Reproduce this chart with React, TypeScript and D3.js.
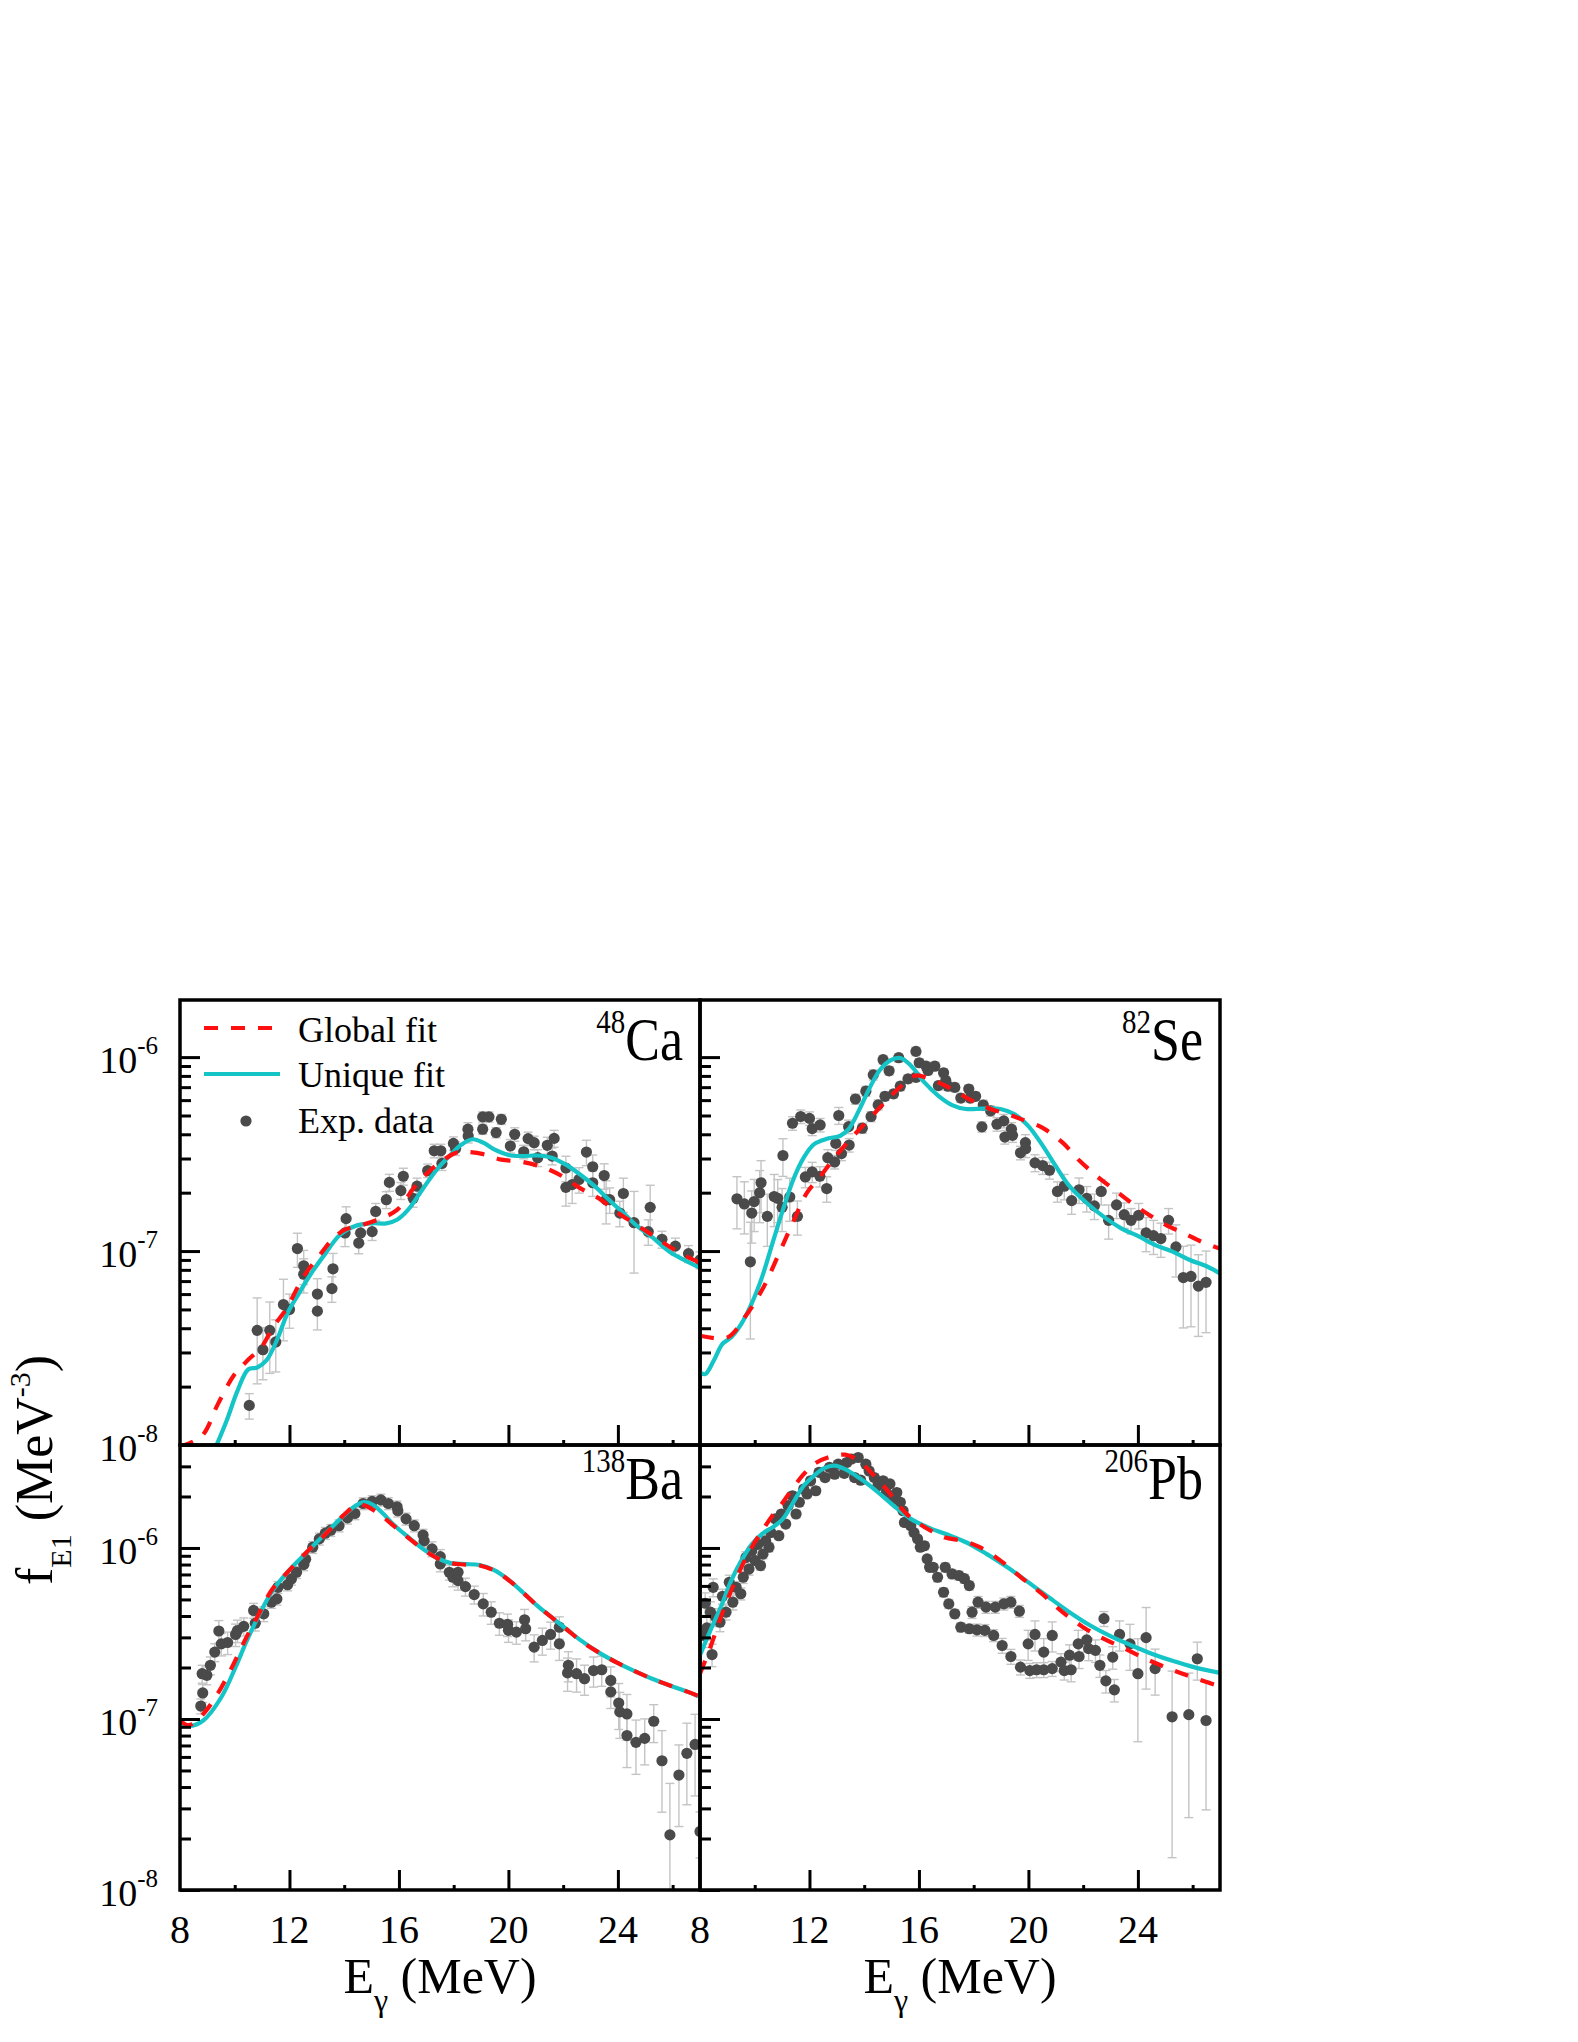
import React, { useEffect, useRef } from "react";
import * as d3 from "d3";

const W = 1578;
const H = 2042;
const FONT = "'Liberation Serif', 'Times New Roman', serif";

// panel frames (px)
const cols = [[180, 700], [700, 1220]];
const rows = [[1000, 1445], [1445, 1890]];
const eDomain = [8, 27];
const fTop = [1.97e-6, 4e-6]; // upper limit of y per row

const xMajor = [8, 12, 16, 20, 24];
const xMinor = [10, 14, 18, 22, 26];
const yLabels = [[1e-6, 1e-7, 1e-8], [1e-6, 1e-7, 1e-8]];

const RED = "#ff1010";
const CYAN = "#14c4c6";
const DOT = "#4a4a4a";

// ---- 48Ca ---- [E, f, relErr]
const ca48Exp = [
  [10.53, 1.6e-8, 0.15], [10.82, 3.9e-8, 0.47], [11.03, 3.1e-8, 0.3], [11.28, 3.9e-8, 0.4],
  [11.5, 3.4e-8, 0.3], [11.78, 5.3e-8, 0.35], [12.0, 5.0e-8, 0.2], [12.29, 1.03e-7, 0.2],
  [12.52, 8.4e-8, 0.2], [12.52, 7.6e-8, 0.2], [13.02, 6.0e-8, 0.2], [13.02, 4.9e-8, 0.2],
  [13.55, 6.4e-8, 0.15], [13.59, 8.1e-8, 0.2], [14.07, 1.47e-7, 0.15], [14.03, 1.24e-7, 0.15],
  [14.53, 1.1e-7, 0.12], [14.6, 1.24e-7, 0.12], [15.02, 1.26e-7, 0.1], [15.15, 1.6e-7, 0.1],
  [15.54, 1.84e-7, 0.1], [15.65, 2.26e-7, 0.1], [16.07, 2.05e-7, 0.1], [16.16, 2.43e-7, 0.1],
  [16.52, 1.87e-7, 0.1], [16.66, 2.16e-7, 0.1], [17.05, 2.6e-7, 0.08], [17.29, 3.29e-7, 0.08],
  [17.53, 3.29e-7, 0.08], [17.57, 2.83e-7, 0.08], [17.99, 3.59e-7, 0.08], [18.07, 3.38e-7, 0.08],
  [18.52, 4.25e-7, 0.08], [18.53, 3.92e-7, 0.08], [19.06, 4.92e-7, 0.06], [19.06, 4.25e-7, 0.06],
  [19.29, 4.92e-7, 0.06], [19.55, 4.08e-7, 0.06], [19.74, 4.78e-7, 0.06], [20.07, 3.48e-7, 0.08],
  [20.23, 4.0e-7, 0.08], [20.56, 3.25e-7, 0.08], [20.72, 3.8e-7, 0.08], [20.94, 3.62e-7, 0.08],
  [21.07, 3.03e-7, 0.1], [21.42, 3.51e-7, 0.1], [21.6, 3.09e-7, 0.1], [21.67, 3.81e-7, 0.1],
  [22.1, 2.68e-7, 0.15], [22.1, 2.13e-7, 0.2], [22.33, 2.2e-7, 0.2], [22.58, 2.34e-7, 0.15],
  [22.85, 3.24e-7, 0.15], [23.08, 2.72e-7, 0.15], [23.08, 2.25e-7, 0.15], [23.5, 2.45e-7, 0.15],
  [23.57, 1.84e-7, 0.25], [23.7, 1.84e-7, 0.15], [24.07, 1.57e-7, 0.15], [24.2, 1.98e-7, 0.2],
  [24.59, 1.4e-7, 0.45], [25.18, 1.68e-7, 0.3], [25.11, 1.26e-7, 0.15], [25.61, 1.15e-7, 0.1],
  [26.1, 1.06e-7, 0.1], [26.58, 9.7e-8, 0.1], [27.0, 9.0e-8, 0.1],
];
const ca48Global = [
  [8, 9.8e-9], [8.79, 1.11e-8], [9.38, 1.62e-8], [9.97, 2.29e-8], [10.49, 2.75e-8], [10.95, 3.16e-8],
  [11.41, 4.07e-8], [11.87, 5.0e-8], [12.52, 7.4e-8], [13.05, 9.3e-8], [13.57, 1.15e-7], [14.03, 1.29e-7],
  [14.62, 1.36e-7], [15.28, 1.46e-7], [15.93, 1.63e-7], [16.59, 2.16e-7], [17.11, 2.58e-7], [17.64, 2.96e-7],
  [18.16, 3.24e-7], [18.56, 3.24e-7], [19.08, 3.16e-7], [19.74, 2.96e-7], [20.52, 2.88e-7], [21.31, 2.69e-7],
  [21.97, 2.43e-7], [22.62, 2.11e-7], [23.28, 1.88e-7], [23.93, 1.6e-7], [24.59, 1.39e-7], [25.25, 1.21e-7],
  [25.9, 1.05e-7], [26.56, 9.3e-8], [27.08, 8.6e-8],
];
const ca48Unique = [
  [9.31, 9.8e-9], [9.7, 1.33e-8], [10.1, 1.9e-8], [10.49, 2.45e-8], [10.82, 2.51e-8], [11.15, 2.72e-8],
  [11.54, 3.47e-8], [11.93, 4.79e-8], [12.33, 6.0e-8], [12.79, 7.66e-8], [13.31, 9.7e-8], [13.84, 1.21e-7],
  [14.43, 1.35e-7], [15.02, 1.39e-7], [15.54, 1.39e-7], [15.93, 1.45e-7], [16.33, 1.63e-7], [16.85, 2.07e-7],
  [17.38, 2.63e-7], [17.9, 3.15e-7], [18.3, 3.55e-7], [18.69, 3.77e-7], [19.08, 3.62e-7], [19.48, 3.34e-7],
  [20.0, 3.13e-7], [20.52, 3.09e-7], [21.05, 3.11e-7], [21.57, 3.03e-7], [22.1, 2.79e-7], [22.62, 2.48e-7],
  [23.15, 2.16e-7], [23.67, 1.84e-7], [24.2, 1.57e-7], [24.72, 1.34e-7], [25.25, 1.18e-7], [25.9, 9.9e-8],
  [26.56, 8.8e-8], [27.08, 8.1e-8],
];

// ---- 82Se ----
const se82Exp = [
  [9.35, 1.86e-7, 0.3], [9.62, 1.75e-7, 0.3], [9.84, 8.8e-8, 0.6], [9.89, 1.57e-7, 0.3],
  [9.98, 1.8e-7, 0.3], [10.18, 2.0e-7, 0.3], [10.23, 2.25e-7, 0.3], [10.46, 1.51e-7, 0.3],
  [10.71, 1.91e-7, 0.3], [10.84, 1.87e-7, 0.25], [11.0, 1.68e-7, 0.25], [11.03, 3.11e-7, 0.22],
  [11.28, 1.9e-7, 0.25], [11.38, 4.56e-7, 0.08], [11.56, 1.51e-7, 0.2], [11.68, 4.94e-7, 0.08],
  [11.85, 2.41e-7, 0.12], [12.0, 4.83e-7, 0.08], [12.1, 2.56e-7, 0.12], [12.1, 4.28e-7, 0.08],
  [12.39, 4.47e-7, 0.08], [12.38, 2.43e-7, 0.12], [12.63, 2.1e-7, 0.15], [12.67, 3.03e-7, 0.1],
  [12.92, 2.88e-7, 0.08], [12.96, 3.59e-7, 0.08], [13.07, 5.0e-7, 0.1], [13.17, 3.18e-7, 0.08],
  [13.43, 4.38e-7, 0.08], [13.45, 3.52e-7, 0.08], [13.68, 6.08e-7, 0.06], [13.93, 4.3e-7, 0.06],
  [14.06, 6.67e-7, 0.06], [14.25, 4.94e-7, 0.06], [14.33, 8.1e-7, 0.06], [14.51, 5.67e-7, 0.06],
  [14.69, 9.7e-7, 0.05], [14.76, 6.28e-7, 0.05], [14.91, 8.5e-7, 0.05], [15.07, 6.46e-7, 0.05],
  [15.26, 9.93e-7, 0.05], [15.32, 7.08e-7, 0.05], [15.6, 7.72e-7, 0.05], [15.89, 1.07e-6, 0.05],
  [15.89, 7.87e-7, 0.05], [16.01, 9.35e-7, 0.05], [16.26, 8.98e-7, 0.05], [16.33, 8.53e-7, 0.05],
  [16.58, 8.98e-7, 0.05], [16.71, 7.13e-7, 0.05], [16.9, 8.3e-7, 0.05], [16.98, 7.57e-7, 0.05],
  [17.06, 7.08e-7, 0.05], [17.31, 6.98e-7, 0.05], [17.53, 6.15e-7, 0.05], [17.82, 6.85e-7, 0.05],
  [17.87, 6.15e-7, 0.05], [18.07, 6.28e-7, 0.05], [18.3, 4.37e-7, 0.06], [18.35, 5.66e-7, 0.06],
  [18.62, 5.28e-7, 0.06], [18.85, 4.51e-7, 0.08], [19.1, 4.69e-7, 0.08], [19.14, 3.87e-7, 0.08],
  [19.38, 4.25e-7, 0.08], [19.42, 3.95e-7, 0.08], [19.71, 3.21e-7, 0.08], [19.89, 3.62e-7, 0.1],
  [19.9, 3.37e-7, 0.1], [20.24, 2.85e-7, 0.1], [20.52, 2.76e-7, 0.1], [20.77, 2.61e-7, 0.1],
  [21.06, 2.03e-7, 0.12], [21.31, 2.16e-7, 0.15], [21.58, 1.82e-7, 0.15], [21.85, 2.07e-7, 0.15],
  [22.13, 1.87e-7, 0.15], [22.41, 1.71e-7, 0.15], [22.66, 2.03e-7, 0.15], [22.93, 1.44e-7, 0.2],
  [23.22, 1.73e-7, 0.15], [23.5, 1.54e-7, 0.15], [23.75, 1.44e-7, 0.15], [24.03, 1.53e-7, 0.15],
  [24.3, 1.24e-7, 0.2], [24.57, 1.2e-7, 0.2], [24.84, 1.16e-7, 0.2], [25.12, 1.44e-7, 0.15],
  [25.39, 1.05e-7, 0.3], [25.66, 7.3e-8, 0.45], [25.94, 7.4e-8, 0.45], [26.21, 6.6e-8, 0.45],
  [26.49, 6.9e-8, 0.45],
];
const se82Global = [
  [8, 3.66e-8], [9.01, 3.59e-8], [9.64, 4.57e-8], [10.27, 6.31e-8], [10.9, 9.8e-8], [11.41, 1.42e-7],
  [11.91, 2.0e-7], [12.35, 2.38e-7], [12.92, 3.03e-7], [13.55, 3.85e-7], [14.18, 4.79e-7], [14.81, 5.96e-7],
  [15.44, 7.28e-7], [15.89, 8.04e-7], [16.33, 7.78e-7], [16.96, 7.13e-7], [17.72, 6.19e-7], [18.47, 5.5e-7],
  [19.23, 5.08e-7], [19.73, 4.79e-7], [20.49, 4.34e-7], [21.25, 3.62e-7], [21.88, 2.91e-7], [22.51, 2.43e-7],
  [23.14, 2.07e-7], [23.77, 1.77e-7], [24.4, 1.54e-7], [25.03, 1.36e-7], [25.66, 1.24e-7], [26.3, 1.12e-7],
  [27.0, 1.03e-7],
];
const se82Unique = [
  [8, 2.37e-8], [8.19, 2.32e-8], [8.5, 2.72e-8], [8.82, 3.32e-8], [9.14, 3.59e-8], [9.51, 4.21e-8],
  [9.89, 5.37e-8], [10.27, 7.36e-8], [10.65, 1.1e-7], [11.03, 1.63e-7], [11.41, 2.34e-7], [11.79, 3.03e-7],
  [12.16, 3.55e-7], [12.67, 3.8e-7], [13.11, 3.92e-7], [13.43, 4.25e-7], [13.8, 5.28e-7], [14.18, 6.85e-7],
  [14.56, 8.53e-7], [14.94, 9.6e-7], [15.32, 9.9e-7], [15.7, 9.06e-7], [16.2, 7.41e-7], [16.71, 6.32e-7],
  [17.21, 5.66e-7], [17.72, 5.4e-7], [18.35, 5.43e-7], [18.98, 5.4e-7], [19.48, 5.08e-7], [19.99, 4.42e-7],
  [20.49, 3.55e-7], [21.0, 2.74e-7], [21.5, 2.16e-7], [22.13, 1.77e-7], [22.76, 1.5e-7], [23.39, 1.31e-7],
  [24.03, 1.19e-7], [24.66, 1.07e-7], [25.29, 9.9e-8], [25.92, 8.97e-8], [26.55, 8.3e-8], [27.0, 7.66e-8],
];

// ---- 138Ba ----
const ba138Exp = [
  [8.76, 1.19e-7, 0.1], [8.83, 1.42e-7, 0.12], [8.81, 1.84e-7, 0.12], [8.98, 1.8e-7, 0.12],
  [9.11, 2.06e-7, 0.12], [9.27, 2.46e-7, 0.12], [9.42, 3.27e-7, 0.15], [9.51, 2.75e-7, 0.15],
  [9.74, 2.8e-7, 0.15], [10.03, 3.12e-7, 0.15], [10.1, 3.29e-7, 0.15], [10.33, 3.48e-7, 0.12],
  [10.69, 4.31e-7, 0.1], [10.75, 3.63e-7, 0.1], [11.06, 4.12e-7, 0.1], [11.34, 4.82e-7, 0.08],
  [11.54, 5.04e-7, 0.08], [11.58, 5.89e-7, 0.08], [11.93, 6.1e-7, 0.08], [12.07, 6.59e-7, 0.08],
  [12.26, 7.21e-7, 0.08], [12.52, 8.0e-7, 0.08], [12.59, 8.6e-7, 0.08], [12.85, 1.01e-6, 0.08],
  [13.09, 1.13e-6, 0.08], [13.31, 1.22e-6, 0.08], [13.51, 1.27e-6, 0.08], [13.81, 1.35e-6, 0.08],
  [14.12, 1.5e-6, 0.08], [14.39, 1.59e-6, 0.08], [14.69, 1.82e-6, 0.08], [15.02, 1.87e-6, 0.08],
  [15.34, 1.91e-6, 0.08], [15.61, 1.82e-6, 0.08], [15.93, 1.74e-6, 0.08], [15.96, 1.65e-6, 0.08],
  [16.26, 1.48e-6, 0.08], [16.56, 1.35e-6, 0.08], [16.88, 1.19e-6, 0.08], [16.92, 1.1e-6, 0.08],
  [17.21, 9.87e-7, 0.1], [17.51, 8.89e-7, 0.1], [17.51, 8.06e-7, 0.1], [17.84, 7.21e-7, 0.1],
  [17.97, 6.74e-7, 0.12], [18.16, 7.21e-7, 0.1], [18.16, 6.44e-7, 0.12], [18.43, 5.94e-7, 0.12],
  [18.75, 5.34e-7, 0.12], [19.08, 4.71e-7, 0.15], [19.37, 4.21e-7, 0.15], [19.67, 3.63e-7, 0.15],
  [19.97, 3.57e-7, 0.15], [20.0, 3.3e-7, 0.15], [20.29, 3.22e-7, 0.15], [20.59, 3.8e-7, 0.15],
  [20.63, 3.37e-7, 0.15], [20.94, 2.63e-7, 0.18], [21.24, 2.88e-7, 0.18], [21.54, 3.12e-7, 0.18],
  [21.86, 3.44e-7, 0.15], [21.86, 2.75e-7, 0.2], [22.16, 1.86e-7, 0.22], [22.19, 2.06e-7, 0.2],
  [22.49, 1.84e-7, 0.22], [22.78, 1.72e-7, 0.2], [23.11, 1.92e-7, 0.2], [23.41, 1.94e-7, 0.2],
  [23.74, 1.68e-7, 0.2], [23.74, 1.44e-7, 0.2], [24.03, 1.24e-7, 0.3], [24.07, 1.1e-7, 0.3],
  [24.33, 1.07e-7, 0.3], [24.33, 8.0e-8, 0.35], [24.66, 7.3e-8, 0.35], [24.98, 7.7e-8, 0.3],
  [25.31, 9.7e-8, 0.25], [25.61, 5.7e-8, 0.5], [25.9, 2.1e-8, 1.0], [26.23, 4.7e-8, 0.5],
  [26.52, 6.3e-8, 0.5], [26.82, 7.1e-8, 0.5], [27.0, 2.2e-8, 0.3],
];
const ba138Global = [
  [8, 9.8e-8], [8.33, 9.2e-8], [8.85, 1.07e-7], [9.38, 1.41e-7], [9.9, 2.01e-7], [10.43, 3.01e-7],
  [10.82, 3.94e-7], [11.34, 5.64e-7], [11.87, 7.05e-7], [12.39, 8.63e-7], [12.92, 1.05e-6], [13.44, 1.26e-6],
  [13.97, 1.55e-6], [14.47, 1.79e-6], [14.75, 1.77e-6], [15.28, 1.58e-6], [15.8, 1.35e-6], [16.33, 1.15e-6],
  [16.85, 9.9e-7], [17.38, 8.75e-7], [17.9, 8.15e-7], [18.43, 8.0e-7], [18.95, 7.89e-7], [19.48, 7.38e-7],
  [20.0, 6.5e-7], [20.52, 5.51e-7], [21.05, 4.6e-7], [21.57, 3.94e-7], [22.1, 3.37e-7], [22.62, 2.88e-7],
  [23.28, 2.46e-7], [23.93, 2.15e-7], [24.59, 1.91e-7], [25.25, 1.72e-7], [25.9, 1.57e-7], [26.56, 1.44e-7],
  [27.04, 1.34e-7],
];
const ba138Unique = [
  [8, 9.6e-8], [8.33, 9.1e-8], [8.85, 9.8e-8], [9.51, 1.34e-7], [10.03, 2.01e-7], [10.43, 2.84e-7],
  [10.82, 3.85e-7], [11.34, 5.5e-7], [11.87, 7.05e-7], [12.39, 8.63e-7], [12.92, 1.05e-6], [13.44, 1.27e-6],
  [13.97, 1.54e-6], [14.4, 1.76e-6], [14.69, 1.85e-6], [15.02, 1.8e-6], [15.4, 1.6e-6], [15.8, 1.37e-6],
  [16.33, 1.16e-6], [16.85, 9.95e-7], [17.38, 8.75e-7], [17.9, 8.15e-7], [18.43, 8.05e-7], [18.95, 7.95e-7],
  [19.48, 7.42e-7], [20.0, 6.52e-7], [20.52, 5.51e-7], [21.05, 4.6e-7], [21.57, 3.94e-7], [22.1, 3.37e-7],
  [22.62, 2.9e-7], [23.28, 2.46e-7], [23.93, 2.15e-7], [24.59, 1.91e-7], [25.25, 1.72e-7], [25.9, 1.57e-7],
  [26.56, 1.44e-7], [27.04, 1.34e-7],
];

// ---- 206Pb ----
const pb206Exp = [
  [8.15, 3.08e-7, 0.15], [8.19, 4.75e-7, 0.15], [8.25, 3.41e-7, 0.15], [8.38, 4.21e-7, 0.15],
  [8.44, 2.38e-7, 0.15], [8.48, 5.89e-7, 0.12], [8.57, 3.94e-7, 0.12], [8.73, 3.68e-7, 0.12],
  [8.82, 5.22e-7, 0.1], [8.95, 4.21e-7, 0.1], [9.07, 6.3e-7, 0.1], [9.2, 4.82e-7, 0.1],
  [9.32, 5.89e-7, 0.08], [9.49, 5.4e-7, 0.08], [9.58, 6.74e-7, 0.08], [9.68, 8.8e-7, 0.08],
  [9.79, 7.53e-7, 0.08], [9.89, 9.6e-7, 0.06], [10.02, 8.43e-7, 0.06], [10.12, 1.05e-6, 0.06],
  [10.21, 7.89e-7, 0.06], [10.3, 9.2e-7, 0.06], [10.4, 1.1e-6, 0.06], [10.52, 1.01e-6, 0.06],
  [10.59, 1.23e-6, 0.05], [10.75, 1.48e-6, 0.05], [10.88, 1.18e-6, 0.05], [10.97, 1.58e-6, 0.05],
  [11.13, 1.38e-6, 0.05], [11.22, 1.77e-6, 0.05], [11.38, 2.02e-6, 0.05], [11.51, 1.58e-6, 0.05],
  [11.63, 1.85e-6, 0.05], [11.79, 2.21e-6, 0.05], [11.91, 2.07e-6, 0.05], [12.04, 2.47e-6, 0.05],
  [12.23, 2.16e-6, 0.05], [12.35, 2.77e-6, 0.05], [12.57, 2.58e-6, 0.05], [12.73, 2.96e-6, 0.05],
  [12.92, 2.7e-6, 0.05], [13.05, 3.09e-6, 0.05], [13.27, 2.73e-6, 0.05], [13.36, 3.16e-6, 0.05],
  [13.53, 3.31e-6, 0.05], [13.65, 2.58e-6, 0.05], [13.78, 3.38e-6, 0.05], [13.87, 2.49e-6, 0.05],
  [14.06, 3.09e-6, 0.05], [14.18, 2.82e-6, 0.05], [14.37, 2.58e-6, 0.05], [14.5, 2.31e-6, 0.05],
  [14.69, 2.47e-6, 0.05], [14.81, 2.11e-6, 0.05], [14.94, 2.37e-6, 0.05], [15.07, 1.93e-6, 0.05],
  [15.19, 2.11e-6, 0.05], [15.32, 1.85e-6, 0.05], [15.42, 1.65e-6, 0.05], [15.47, 1.41e-6, 0.05],
  [15.7, 1.35e-6, 0.05], [15.82, 1.23e-6, 0.05], [15.95, 1.13e-6, 0.05], [16.05, 1.01e-6, 0.05],
  [16.2, 1.03e-6, 0.05], [16.3, 8.63e-7, 0.05], [16.39, 7.71e-7, 0.05], [16.52, 7.71e-7, 0.05],
  [16.68, 6.74e-7, 0.06], [16.9, 5.51e-7, 0.06], [16.96, 7.71e-7, 0.06], [17.09, 4.71e-7, 0.06],
  [17.21, 7.05e-7, 0.06], [17.31, 4.12e-7, 0.06], [17.46, 6.9e-7, 0.06], [17.53, 3.44e-7, 0.06],
  [17.66, 6.61e-7, 0.06], [17.84, 6.03e-7, 0.06], [17.84, 3.37e-7, 0.06], [17.94, 4.21e-7, 0.08],
  [18.12, 3.32e-7, 0.08], [18.16, 4.82e-7, 0.08], [18.41, 3.3e-7, 0.08], [18.45, 4.51e-7, 0.08],
  [18.73, 3.08e-7, 0.08], [18.79, 4.51e-7, 0.08], [19.04, 2.69e-7, 0.1], [19.1, 4.71e-7, 0.08],
  [19.36, 2.32e-7, 0.1], [19.36, 4.82e-7, 0.08], [19.67, 4.27e-7, 0.08], [19.71, 2.01e-7, 0.1],
  [19.99, 2.75e-7, 0.2], [20.05, 1.92e-7, 0.1], [20.24, 3.12e-7, 0.2], [20.3, 1.94e-7, 0.1],
  [20.56, 2.46e-7, 0.2], [20.56, 1.94e-7, 0.1], [20.87, 3.08e-7, 0.2], [20.87, 1.97e-7, 0.1],
  [21.19, 2.15e-7, 0.12], [21.31, 1.92e-7, 0.12], [21.5, 2.36e-7, 0.15], [21.56, 1.94e-7, 0.15],
  [21.82, 2.75e-7, 0.2], [21.85, 2.32e-7, 0.15], [22.13, 2.9e-7, 0.15], [22.2, 2.58e-7, 0.15],
  [22.45, 2.52e-7, 0.15], [22.61, 2.06e-7, 0.15], [22.76, 3.86e-7, 0.1], [22.83, 1.67e-7, 0.15],
  [23.08, 2.3e-7, 0.15], [23.14, 1.48e-7, 0.15], [23.33, 3.12e-7, 0.2], [23.71, 2.75e-7, 0.3],
  [24.0, 1.84e-7, 0.6], [24.3, 2.99e-7, 0.5], [24.63, 1.97e-7, 0.3], [25.25, 1.03e-7, 0.85],
  [25.86, 1.06e-7, 0.75], [26.17, 2.25e-7, 0.25], [26.49, 9.8e-8, 0.7],
];
const pb206Global = [
  [8, 1.84e-7], [8.38, 2.63e-7], [8.76, 3.94e-7], [9.14, 5.64e-7], [9.51, 7.71e-7], [9.89, 1.01e-6],
  [10.27, 1.26e-6], [10.65, 1.55e-6], [11.03, 1.85e-6], [11.41, 2.26e-6], [11.79, 2.7e-6], [12.16, 3.09e-6],
  [12.67, 3.38e-6], [13.3, 3.51e-6], [13.8, 3.24e-6], [14.31, 2.7e-6], [14.81, 2.21e-6], [15.32, 1.73e-6],
  [15.82, 1.45e-6], [16.45, 1.26e-6], [16.96, 1.15e-6], [17.59, 1.1e-6], [18.22, 1.01e-6], [18.98, 8.43e-7],
  [19.73, 6.74e-7], [20.49, 5.4e-7], [21.25, 4.21e-7], [22.0, 3.44e-7], [22.76, 2.94e-7], [23.52, 2.58e-7],
  [24.28, 2.25e-7], [25.03, 2.0e-7], [25.79, 1.8e-7], [27.0, 1.55e-7],
];
const pb206Unique = [
  [8, 2.36e-7], [8.38, 3.3e-7], [8.76, 4.51e-7], [9.14, 6.44e-7], [9.51, 8.43e-7], [9.89, 1.05e-6],
  [10.27, 1.21e-6], [10.65, 1.32e-6], [11.03, 1.48e-6], [11.41, 1.85e-6], [11.79, 2.31e-6], [12.16, 2.64e-6],
  [12.54, 2.93e-6], [12.92, 3.03e-6], [13.3, 2.89e-6], [13.8, 2.58e-6], [14.44, 2.16e-6], [15.07, 1.77e-6],
  [15.7, 1.48e-6], [16.33, 1.32e-6], [16.96, 1.21e-6], [17.72, 1.08e-6], [18.47, 9.23e-7], [19.23, 7.71e-7],
  [19.99, 6.31e-7], [20.74, 5.15e-7], [21.5, 4.21e-7], [22.26, 3.52e-7], [23.02, 3.04e-7], [23.77, 2.69e-7],
  [24.53, 2.4e-7], [25.29, 2.18e-7], [26.04, 2.01e-7], [27.0, 1.86e-7],
];

const panels = [
  { key: "ca", mass: "48", el: "Ca", row: 0, col: 0, exp: ca48Exp, global: ca48Global, unique: ca48Unique, legend: true },
  { key: "se", mass: "82", el: "Se", row: 0, col: 1, exp: se82Exp, global: se82Global, unique: se82Unique },
  { key: "ba", mass: "138", el: "Ba", row: 1, col: 0, exp: ba138Exp, global: ba138Global, unique: ba138Unique },
  { key: "pb", mass: "206", el: "Pb", row: 1, col: 1, exp: pb206Exp, global: pb206Global, unique: pb206Unique },
];

function drawPanel(root, p) {
  const [x0, x1] = cols[p.col];
  const [y0, y1] = rows[p.row];
  const x = d3.scaleLinear().domain(eDomain).range([x0, x1]);
  const y = d3.scaleLog().domain([1e-8, fTop[p.row]]).range([y1, y0]);

  const g = root.append("g");
  g.append("clipPath").attr("id", `clip-${p.key}`)
    .append("rect").attr("x", x0).attr("y", y0).attr("width", x1 - x0).attr("height", y1 - y0);
  const plot = g.append("g").attr("clip-path", `url(#clip-${p.key})`);

  // error bars
  const eb = plot.append("g").attr("stroke", "#c4c4c4").attr("stroke-width", 1.4).attr("fill", "none");
  p.exp.forEach(([e, f, r]) => {
    const lo = Math.max(f * (1 - r), 1e-10);
    const hi = f * (1 + r);
    const cx = x(e);
    eb.append("line").attr("x1", cx).attr("x2", cx).attr("y1", y(lo)).attr("y2", y(hi));
    if (r < 0.95) eb.append("line").attr("x1", cx - 4.5).attr("x2", cx + 4.5).attr("y1", y(lo)).attr("y2", y(lo));
    eb.append("line").attr("x1", cx - 4.5).attr("x2", cx + 4.5).attr("y1", y(hi)).attr("y2", y(hi));
  });

  plot.append("g").selectAll("circle")
    .data(p.exp)
    .join("circle")
    .attr("cx", d => x(d[0]))
    .attr("cy", d => y(d[1]))
    .attr("r", 5.6)
    .attr("fill", DOT);

  const line = d3.line()
    .x(d => x(d[0]))
    .y(d => y(d[1]))
    .curve(d3.curveCatmullRom.alpha(0.5));

  plot.append("path").attr("d", line(p.unique))
    .attr("fill", "none").attr("stroke", CYAN).attr("stroke-width", 4.2);
  plot.append("path").attr("d", line(p.global))
    .attr("fill", "none").attr("stroke", RED).attr("stroke-width", 4.2)
    .attr("stroke-dasharray", "14 13");

  // inward ticks
  const minorY = [];
  const [lo, hi] = y.domain();
  for (let dec = -9; dec <= -5; dec++) {
    for (let m = 2; m <= 9; m++) {
      const v = m * Math.pow(10, dec);
      if (v > lo && v < hi) minorY.push(v);
    }
  }
  const majorY = [1e-8, 1e-7, 1e-6].filter(v => v >= lo && v <= hi);

  const axes = g.append("g").attr("color", "#000");
  axes.append("g").attr("transform", `translate(${x0},0)`)
    .call(d3.axisLeft(y).tickValues(majorY).tickSizeInner(-20).tickSizeOuter(0).tickFormat(() => ""));
  axes.append("g").attr("transform", `translate(${x0},0)`)
    .call(d3.axisLeft(y).tickValues(minorY).tickSizeInner(-11).tickSizeOuter(0).tickFormat(() => ""));
  axes.append("g").attr("transform", `translate(0,${y1})`)
    .call(d3.axisBottom(x).tickValues(xMajor.slice(1)).tickSizeInner(-20).tickSizeOuter(0).tickFormat(() => ""));
  axes.append("g").attr("transform", `translate(0,${y1})`)
    .call(d3.axisBottom(x).tickValues(xMinor).tickSizeInner(-5).tickSizeOuter(0).tickFormat(() => ""));
  axes.selectAll(".domain").remove();
  axes.selectAll(".tick line").attr("stroke-width", 3);

  // frame
  g.append("rect").attr("x", x0).attr("y", y0).attr("width", x1 - x0).attr("height", y1 - y0)
    .attr("fill", "none").attr("stroke", "#000").attr("stroke-width", 3.5);

  // nucleus label (tall glyphs, as in the original)
  const lab = g.append("text")
    .attr("transform", `translate(${x1 - 17},${y0 + (p.row === 0 ? 60 : 54)}) scale(1,1.18)`)
    .attr("text-anchor", "end")
    .attr("font-family", FONT).attr("font-size", 52).attr("fill", "#000");
  lab.append("tspan").attr("font-size", 29).attr("dy", -23).text(p.mass);
  lab.append("tspan").attr("dy", 23).text(p.el);

  // y tick labels only on left column
  if (p.col === 0) {
    yLabels[p.row].forEach(v => {
      const t = g.append("text")
        .attr("x", 158).attr("y", y(v) + 16)
        .attr("text-anchor", "end")
        .attr("font-family", FONT).attr("font-size", 38).attr("fill", "#000");
      t.append("tspan").text("10");
      t.append("tspan").attr("font-size", 25).attr("dy", -19).text(String(Math.round(Math.log10(v))));
    });
  }

  // x tick labels + title on bottom row
  if (p.row === 1) {
    g.append("g").selectAll("text")
      .data(xMajor)
      .join("text")
      .attr("x", d => x(d))
      .attr("y", 1943)
      .attr("text-anchor", "middle")
      .attr("font-family", FONT).attr("font-size", 40).attr("fill", "#000")
      .text(d => d);

    const t = g.append("text")
      .attr("x", (x0 + x1) / 2).attr("y", 1993)
      .attr("text-anchor", "middle")
      .attr("font-family", FONT).attr("font-size", 50).attr("fill", "#000");
    t.append("tspan").text("E");
    t.append("tspan").attr("font-size", 32).attr("dy", 18).text("γ");
    t.append("tspan").attr("dy", -18).text(" (MeV)");
  }

  if (p.legend) {
    const lg = g.append("g").attr("font-family", FONT).attr("font-size", 36).attr("fill", "#000");
    lg.append("line").attr("x1", 204).attr("x2", 280).attr("y1", 1028).attr("y2", 1028)
      .attr("stroke", RED).attr("stroke-width", 4.2).attr("stroke-dasharray", "14 13");
    lg.append("text").attr("x", 298).attr("y", 1042).text("Global fit");
    lg.append("line").attr("x1", 204).attr("x2", 280).attr("y1", 1074).attr("y2", 1074)
      .attr("stroke", CYAN).attr("stroke-width", 4.2);
    lg.append("text").attr("x", 298).attr("y", 1087).text("Unique fit");
    lg.append("circle").attr("cx", 246).attr("cy", 1121).attr("r", 5.6).attr("fill", DOT);
    lg.append("text").attr("x", 298).attr("y", 1133).text("Exp. data");
  }
}

function renderChart(svgRef) {
  const svg = d3.select(svgRef.current);
  svg.selectAll("*").remove();
  const root = svg.append("g");

  panels.forEach(p => drawPanel(root, p));

  // shared y title
  const yt = root.append("text")
    .attr("transform", "translate(52,1585) rotate(-90)")
    .attr("text-anchor", "start")
    .attr("font-family", FONT).attr("font-size", 52).attr("fill", "#000");
  yt.append("tspan").text("f");
  yt.append("tspan").attr("font-size", 30).attr("dy", 19).text("E1");
  yt.append("tspan").attr("dy", -19).text(" (MeV");
  yt.append("tspan").attr("font-size", 30).attr("dy", -22).text("-3");
  yt.append("tspan").attr("dy", 22).text(")");
}

export default function App() {
  const svgRef = useRef(null);

  useEffect(() => {
    renderChart(svgRef);
  }, []);

  return (
    <svg
      ref={svgRef}
      width={W}
      height={H}
      style={{ position: "absolute", left: 0, top: 0, background: "#fff" }}
    />
  );
}
